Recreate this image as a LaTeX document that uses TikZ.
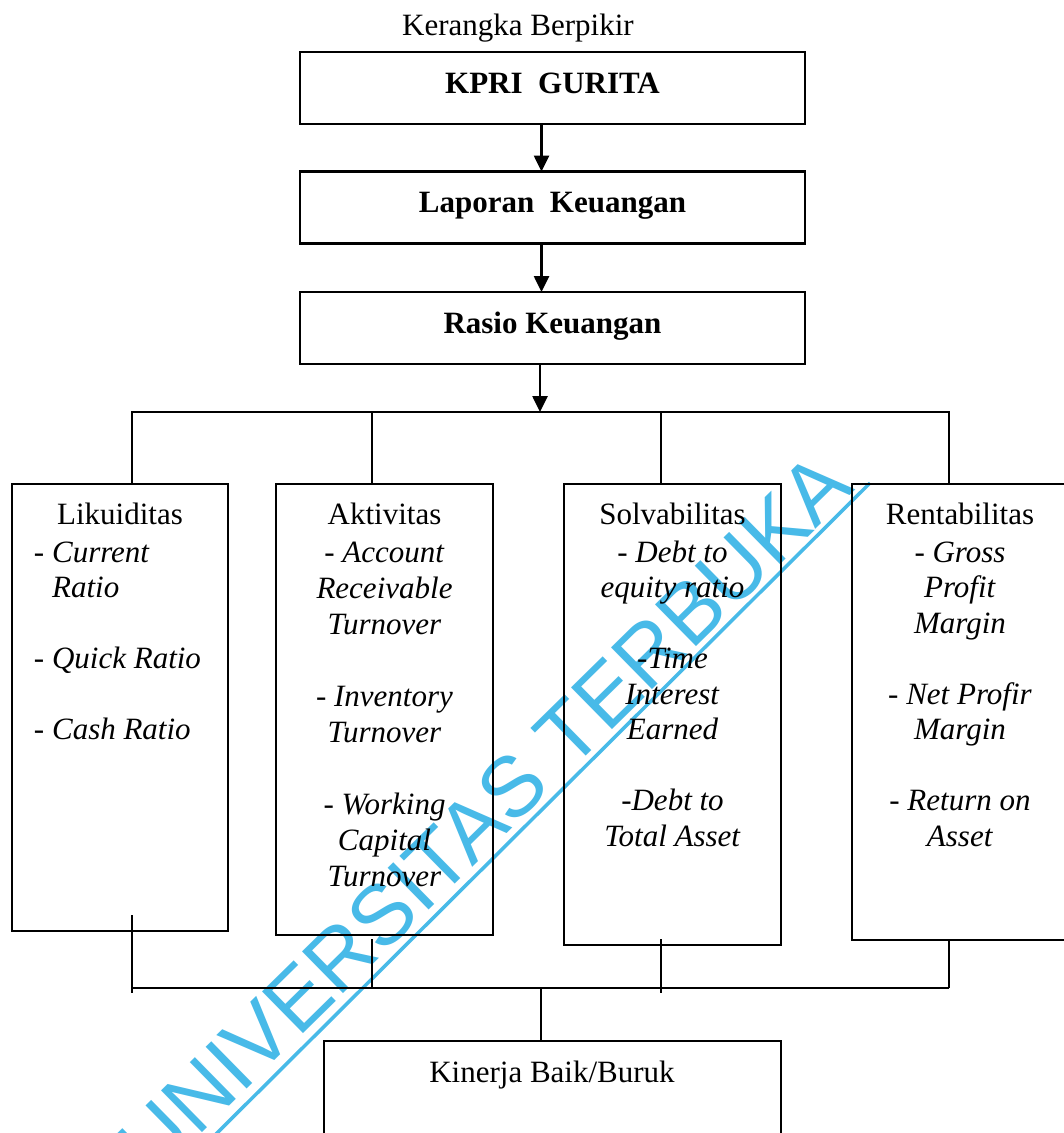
\documentclass[tikz,border=0pt]{standalone}
\usepackage{fontspec}
\setmainfont{Liberation Serif}
\newfontfamily\wmfont{Liberation Sans}
\usetikzlibrary{arrows.meta}
\definecolor{wmblue}{RGB}{72,186,232}
\begin{document}
\begin{tikzpicture}[x=1pt,y=-1pt,
  every node/.style={inner sep=0pt, outer sep=0pt},
  txt/.style={font=\fontsize{31}{35.5}\selectfont},
  boxline/.style={draw=black, line width=2.6pt},
  topbox/.style={boxline, minimum width=505pt, minimum height=72pt, text height=21pt, text depth=11pt, font=\fontsize{31}{35.5}\selectfont\bfseries},
  catbox/.style={boxline, minimum width=216pt},
  items/.style={txt, align=center, anchor=north},
  conn/.style={line width=2.6pt},
  arr/.style={conn, -{Triangle[length=16pt,width=15pt]}},
  wmtext/.style={text=wmblue, font=\wmfont\fontsize{85}{85}\selectfont, rotate=44.5, anchor=base},
  wmline/.style={draw=wmblue, line width=3.5pt},
]
\useasboundingbox (0,0) rectangle (1064,1133);
\fill[white] (0,0) rectangle (1064,1133);

% watermark (behind)
\node[wmtext] (wm) at (505,835) {UNIVERSITAS TERBUKA};
\coordinate (wl1) at (200,1150);
\coordinate (wl2) at (870,483);
\draw[wmline] (wl1) -- (wl2);

% title and top chain
\node[txt, anchor=base] (title) at (518,35) {Kerangka Berpikir};
\node[topbox] (kpri) at (552.5,88) {KPRI\ \ GURITA};
\node[topbox] (lap) at (552.5,207.5) {Laporan\ \ Keuangan};
\node[topbox] (rasio) at (552.5,328) {Rasio Keuangan};

% category boxes
\node[catbox, minimum height=447pt] (lik) at (120,707.5) {};
\node[catbox, minimum width=217pt, minimum height=451pt] (akt) at (384.5,709.5) {};
\node[catbox, minimum width=217pt, minimum height=461pt] (solv) at (672.5,714.5) {};
\node[catbox, minimum height=456pt] (rent) at (960,712) {};
\node[boxline, minimum width=457pt, minimum height=109pt] (kin) at (552.5,1095.5) {};

% titles
\node[txt, anchor=base] (likT) at (120,524) {Likuiditas};
\node[txt, anchor=base] (aktT) at (384.5,524) {Aktivitas};
\node[txt, anchor=base] (solvT) at (672.5,524) {Solvabilitas};
\node[txt, anchor=base] (rentT) at (960,524) {Rentabilitas};
\node[txt, anchor=base] (kinT) at (552,1082) {Kinerja Baik/Buruk};

% items
\node[txt, align=left, anchor=north west] (likI) at (34,537.15)
  {\strut- \textit{Current}\\ \phantom{- }\textit{Ratio}\\[35.5pt] - \textit{Quick Ratio}\\[35.5pt] - \textit{Cash Ratio}};
\node[items, font=\fontsize{31}{36}\selectfont] (aktI) at (384.5,536.8)
  {\strut- \textit{Account}\\ \textit{Receivable}\\ \textit{Turnover}\\[36pt] - \textit{Inventory}\\ \textit{Turnover}\\[36pt] - \textit{Working}\\ \textit{Capital}\\ \textit{Turnover}};
\node[items] (solvI) at (672.5,537.15)
  {\strut- \textit{Debt to}\\ \textit{equity ratio}\\[35.5pt] -\textit{Time}\\ \textit{Interest}\\ \textit{Earned}\\[35.5pt] -\textit{Debt to}\\ \textit{Total Asset}};
\node[items] (rentI) at (960,537.15)
  {\strut- \textit{Gross}\\ \textit{Profit}\\ \textit{Margin}\\[35.5pt] - \textit{Net Profir}\\ \textit{Margin}\\[35.5pt] - \textit{Return on}\\ \textit{Asset}};

% connectors: top chain
\coordinate (busT) at (540,412);
\draw[arr] ([xshift=-11pt]kpri.south) -- ([xshift=-11pt]lap.north);
\draw[arr] ([xshift=-11pt]lap.south) -- ([xshift=-11pt]rasio.north);
\draw[arr] ([xshift=-12.5pt]rasio.south) -- (busT);

% top bus
\coordinate (likt) at ([xshift=12pt]lik.north);
\coordinate (aktt) at ([xshift=-12.5pt]akt.north);
\coordinate (solvt) at ([xshift=-11.5pt]solv.north);
\coordinate (rentt) at ([xshift=-11pt]rent.north);
\draw[conn] (likt) |- (busT) -| (rentt);
\draw[conn] (aktt) -- (aktt |- busT);
\draw[conn] (solvt) -- (solvt |- busT);

% bottom bus
\coordinate (busB) at (541,988);
\coordinate (likb) at ([xshift=12pt,yshift=16pt]lik.south);
\coordinate (aktb) at ([xshift=-12.5pt,yshift=-4pt]akt.south);
\coordinate (solvb) at ([xshift=-11.5pt,yshift=6pt]solv.south);
\coordinate (rentb) at ([xshift=-11pt]rent.south);
\draw[conn] (likb) -- ++(0,78);
\draw[conn] (likb |- busB) -- (rentb |- busB);
\draw[conn] (aktb) -- (aktb |- busB);
\draw[conn] (solvb) -- ++(0,54);
\draw[conn] (rentb) -- (rentb |- busB);
\draw[conn] (busB) -- (busB |- kin.north);
\end{tikzpicture}
\end{document}
